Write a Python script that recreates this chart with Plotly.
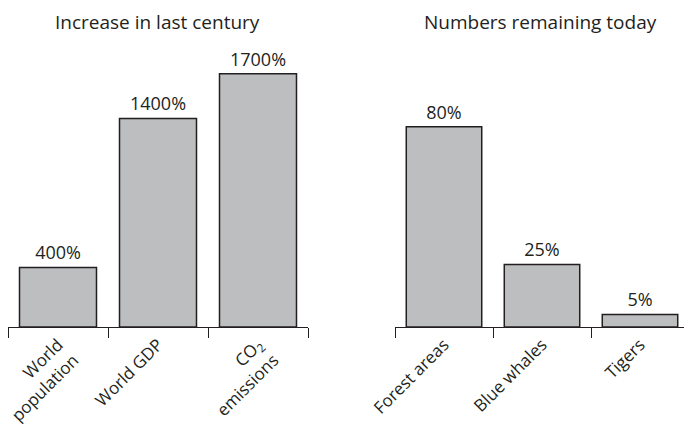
import plotly.graph_objects as go

left_categories = ["World<br>population", "World GDP", "CO<sub>2</sub><br>emissions"]
left_values = [400, 1400, 1700]
left_labels = ["400%", "1400%", "1700%"]

right_categories = ["Forest areas", "Blue whales", "Tigers"]
right_values = [80, 25, 5]
right_labels = ["80%", "25%", "5%"]

left_title = "Increase in last century"
right_title = "Numbers remaining today"

FONT = "Open Sans"
INK = "#231f20"
BAR = "#bcbec0"

# The page body adds an 8px offset; figure coordinates are compensated.
W, H = 684, 433
ML, MR, MT, MB = 0, 3, 21, 114
plot_w = W - ML - MR
plot_h = H - MT - MB

fig = go.Figure()
fig.add_trace(go.Bar(
    x=left_categories, y=left_values, text=left_labels,
    textposition="outside", cliponaxis=False, width=0.77,
    marker=dict(color=BAR, line=dict(color=INK, width=1.5)),
    textfont=dict(family=FONT, size=18, color=INK),
    xaxis="x", yaxis="y", showlegend=False,
))
fig.add_trace(go.Bar(
    x=right_categories, y=right_values, text=right_labels,
    textposition="outside", cliponaxis=False, width=0.77,
    marker=dict(color=BAR, line=dict(color=INK, width=1.5)),
    textfont=dict(family=FONT, size=18, color=INK),
    xaxis="x2", yaxis="y2", showlegend=False,
))

xcommon = dict(
    type="category", tickson="boundaries", ticks="outside", ticklen=10,
    tickwidth=1.2, tickcolor=INK, showline=True, linecolor=INK, linewidth=1.2,
    tickangle=-45, showgrid=False, zeroline=False, automargin=False,
    tickfont=dict(family=FONT, size=17, color=INK),
)
ycommon = dict(visible=False, showgrid=False, zeroline=False, automargin=False)

title_y = 1 + MT / plot_h

fig.update_layout(
    width=W, height=H,
    margin=dict(l=ML, r=MR, t=MT, b=MB, autoexpand=False),
    paper_bgcolor="white", plot_bgcolor="white",
    xaxis=dict(domain=[0, 300 / plot_w], **xcommon),
    xaxis2=dict(domain=[387 / plot_w, 1], anchor="y2", **xcommon),
    yaxis=dict(domain=[0, 1], range=[0, 2000], anchor="x", **ycommon),
    yaxis2=dict(domain=[0, 1], range=[0, 119], anchor="x2", **ycommon),
    annotations=[
        dict(text=left_title, x=149 / plot_w, xref="paper", y=title_y, yref="paper",
             xanchor="center", yanchor="top", borderpad=0, showarrow=False,
             font=dict(family=FONT, size=19, color=INK)),
        dict(text=right_title, x=532 / plot_w, xref="paper", y=title_y, yref="paper",
             xanchor="center", yanchor="top", borderpad=0, showarrow=False,
             font=dict(family=FONT, size=19, color=INK)),
    ],
)

fig.write_html("out.html")
